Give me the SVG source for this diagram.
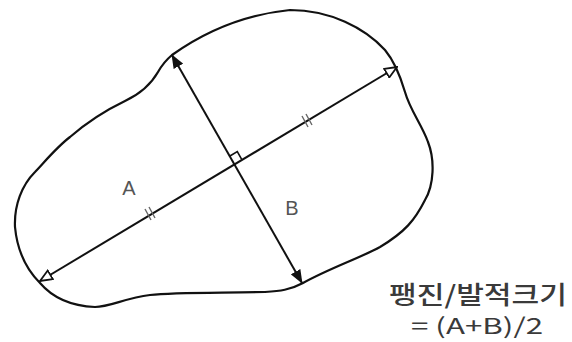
<svg xmlns="http://www.w3.org/2000/svg" width="572" height="342" viewBox="0 0 572 342">
<style>
.outline{fill:none;stroke:#111;stroke-width:2.2;stroke-linejoin:round}
.dim{fill:none;stroke:#111;stroke-width:2}
.tick{fill:none;stroke:#666;stroke-width:1.4}
.lbl{font-family:"Liberation Sans",Arial,sans-serif;font-size:20px;fill:#555;text-anchor:middle}
.note{font-family:"Noto Sans CJK KR","Noto Sans",sans-serif;fill:#3a3a3a;text-anchor:middle}
</style>
<defs>
<marker id="hollow" viewBox="0 0 14 12" refX="13" refY="6" markerWidth="14" markerHeight="12" markerUnits="userSpaceOnUse" orient="auto-start-reverse">
<path d="M1,1 L13,6 L1,11 Z" fill="#fff" stroke="#111" stroke-width="1.8" stroke-linejoin="miter"/>
</marker>
<marker id="solid" viewBox="0 0 14 12" refX="13" refY="6" markerWidth="14" markerHeight="12" markerUnits="userSpaceOnUse" orient="auto-start-reverse">
<path d="M0,0.5 L14,6 L0,11.5 Z" fill="#111"/>
</marker>
</defs>
<g id="outline">
<path class="outline" d="M40,283 C25,268 17,248 15,227 C14,205 22,185 35,172 C48,158 58,146 70,137 C85,124 100,113 125,101 C140,94 150,86 158,72 C162,65 166,60 172,55 C200,35 240,15 290,10 C330,10 365,28 385,50 C395,62 400,75 405,92 C410,110 422,125 428,142 C435,160 434,185 425,200 C415,220 405,232 380,247 C360,258 330,268 303,283 C290,290 280,291 265,292 C220,293 175,292 150,295 C125,298 110,307 95,307 C70,306 52,297 40,283 Z"/>
</g>
<g id="connectors">
<line id="lineA" class="dim" x1="40" y1="281" x2="397" y2="67" marker-start="url(#hollow)" marker-end="url(#hollow)"/>
<line id="lineB" class="dim" x1="172" y1="55" x2="302" y2="283" marker-start="url(#solid)" marker-end="url(#solid)"/>
<path id="rightangle" fill="none" stroke="#111" stroke-width="1.6" d="M241.7,159.4 L237.3,151.6 L229.5,156.2"/>
<g id="ticks">
<path class="tick" d="M145,209 L151,220 M149,207 L155,218"/>
<path class="tick" d="M302,116 L308,127 M306,114 L312,125"/>
</g>
</g>
<g id="labelA"><text class="lbl" x="129" y="195">A</text></g>
<g id="labelB"><text class="lbl" x="292" y="215">B</text></g>
<g id="formula">
<text class="note" x="478" y="304" font-size="25" font-weight="500" textLength="178" lengthAdjust="spacingAndGlyphs">팽진/발적크기</text>
<text class="note" x="477" y="334" font-size="22" textLength="132" lengthAdjust="spacingAndGlyphs">= (A+B)/2</text>
</g>
</svg>
